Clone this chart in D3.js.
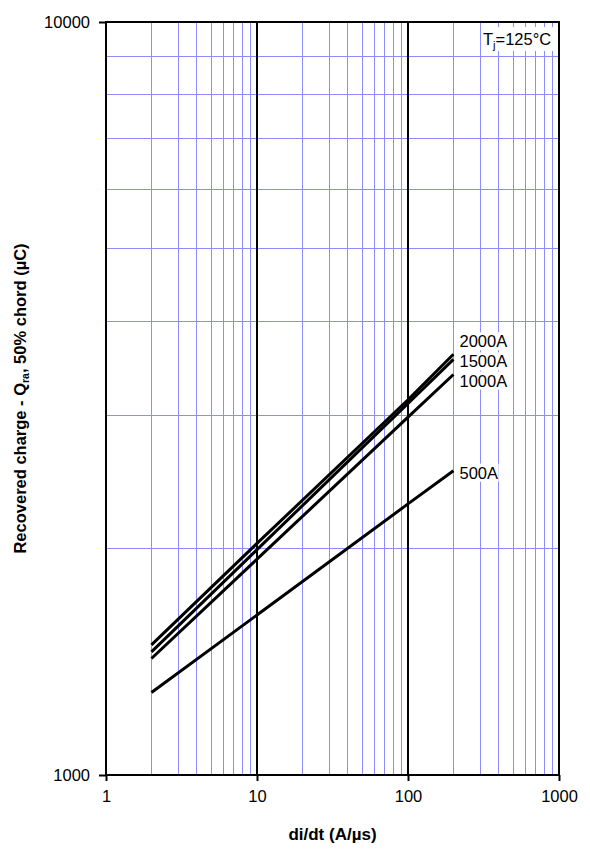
<!DOCTYPE html>
<html><head><meta charset="utf-8">
<script src="https://cdn.jsdelivr.net/npm/d3@7"></script>
<style>body{margin:0;background:#fff}svg{display:block;font-family:"Liberation Sans",Arial,sans-serif}</style>
</head><body><svg id="c" width="590" height="854"></svg>
<script>
const xDomain = [1, 1000];
const yDomain = [1000, 10000];
const xTickLabels = [1, 10, 100, 1000];
const yTickLabels = [1000, 10000];
const seriesNames = ["2000A", "1500A", "1000A", "500A"];
const diDt = [2, 10, 100, 200];
const q2000 = [1489, 2030, 3150, 3620];
const q1500 = [1457, 1992, 3115, 3564];
const q1000 = [1428, 1935, 2987, 3403];
const q500  = [1287, 1631, 2291, 2536];
const seriesValues = [q2000, q1500, q1000, q500];

const svg = d3.select("#c");
const L = 106, R = 559, T = 22, B = 775;
const x = d3.scaleLog().domain(xDomain).range([L, R]);
const y = d3.scaleLog().domain(yDomain).range([B, T]);
const grid = "#8c8cff";
const FS = 16.5;

// minor vertical grid
const xMinor = [];
for (let d = 1; d < 1000; d *= 10) for (let k = 2; k <= 9; k++) xMinor.push(d * k);
svg.append("g").selectAll("line").data(xMinor).join("line")
  .attr("x1", d => x(d)).attr("x2", d => x(d)).attr("y1", T).attr("y2", B)
  .attr("stroke", grid).attr("stroke-width", 1).attr("shape-rendering", "crispEdges");
const yMinor = [];
for (let k = 2; k <= 9; k++) yMinor.push(1000 * k);
svg.append("g").selectAll("line").data(yMinor).join("line")
  .attr("x1", L).attr("x2", R).attr("y1", d => y(d)).attr("y2", d => y(d))
  .attr("stroke", grid).attr("stroke-width", 1).attr("shape-rendering", "crispEdges");
// major vertical
svg.append("g").selectAll("line").data([10, 100]).join("line")
  .attr("x1", d => x(d)).attr("x2", d => x(d)).attr("y1", T).attr("y2", B)
  .attr("stroke", "#000").attr("stroke-width", 2);

// frame
svg.append("rect").attr("x", L).attr("y", T).attr("width", R - L).attr("height", B - T)
  .attr("fill", "none").attr("stroke", "#000").attr("stroke-width", 2);

// axes
const xAxis = d3.axisBottom(x).tickValues(xTickLabels).tickFormat(d3.format("d")).tickSize(6).tickPadding(9);
const gx = svg.append("g").attr("transform", `translate(0,${B})`).call(xAxis);
gx.select(".domain").remove();
gx.selectAll("line").attr("stroke-width", 2);
gx.selectAll("text").attr("font-size", FS).attr("font-family", "Liberation Sans, Arial, sans-serif").attr("fill", "#000");
const yAxis = d3.axisLeft(y).tickValues(yTickLabels).tickFormat(d3.format("d")).tickSize(7).tickPadding(9);
const gy = svg.append("g").attr("transform", `translate(${L},0)`).call(yAxis);
gy.select(".domain").remove();
gy.selectAll("line").attr("stroke-width", 2);
gy.selectAll("text").attr("font-size", FS).attr("font-family", "Liberation Sans, Arial, sans-serif").attr("fill", "#000");

// lines
const line = d3.line().x(d => x(d[0])).y(d => y(d[1]));
svg.append("g").selectAll("path").data(seriesValues).join("path")
  .attr("d", v => line(diDt.map((d, i) => [d, v[i]])))
  .attr("fill", "none").attr("stroke", "#000").attr("stroke-width", 3);

// series labels
const labelOffsets = [-13, 2, 6, 2];
const last = diDt.length - 1;
const lab = svg.append("g").selectAll("g").data(seriesNames).join("g")
  .attr("transform", (n, i) => `translate(${x(diDt[last]) + 5},${y(seriesValues[i][last]) + labelOffsets[i]})`);
lab.append("rect").attr("x", 0).attr("y", -9).attr("width", n => n.length * 9.3 + 3).attr("height", 18).attr("fill", "#fff");
lab.append("text").attr("x", 1).attr("y", 6).attr("font-size", FS).text(n => n);

// Tj annotation
const tj = svg.append("g").attr("transform", `translate(${R - 78},27)`);
tj.append("rect").attr("x", 0).attr("y", 0).attr("width", 74).attr("height", 24).attr("fill", "#fff");
const tt = tj.append("text").attr("x", 2).attr("y", 18).attr("font-size", FS);
tt.append("tspan").text("T");
tt.append("tspan").attr("font-size", 11).attr("dy", 4).text("j");
tt.append("tspan").attr("dy", -4).text("=125°C");

// axis titles
svg.append("text").attr("x", (L + R) / 2).attr("y", 840).attr("text-anchor", "middle")
  .attr("font-size", 17).attr("font-weight", "bold").text("di/dt (A/µs)");
const yt = svg.append("text").attr("transform", `translate(26,${(T + B) / 2}) rotate(-90)`)
  .attr("text-anchor", "middle").attr("font-size", 16.5).attr("font-weight", "bold");
yt.append("tspan").text("Recovered charge - Q");
yt.append("tspan").attr("font-size", 10.5).attr("dy", 3).text("ra");
yt.append("tspan").attr("dy", -3).text(", 50% chord (µC)");
</script></body></html>
